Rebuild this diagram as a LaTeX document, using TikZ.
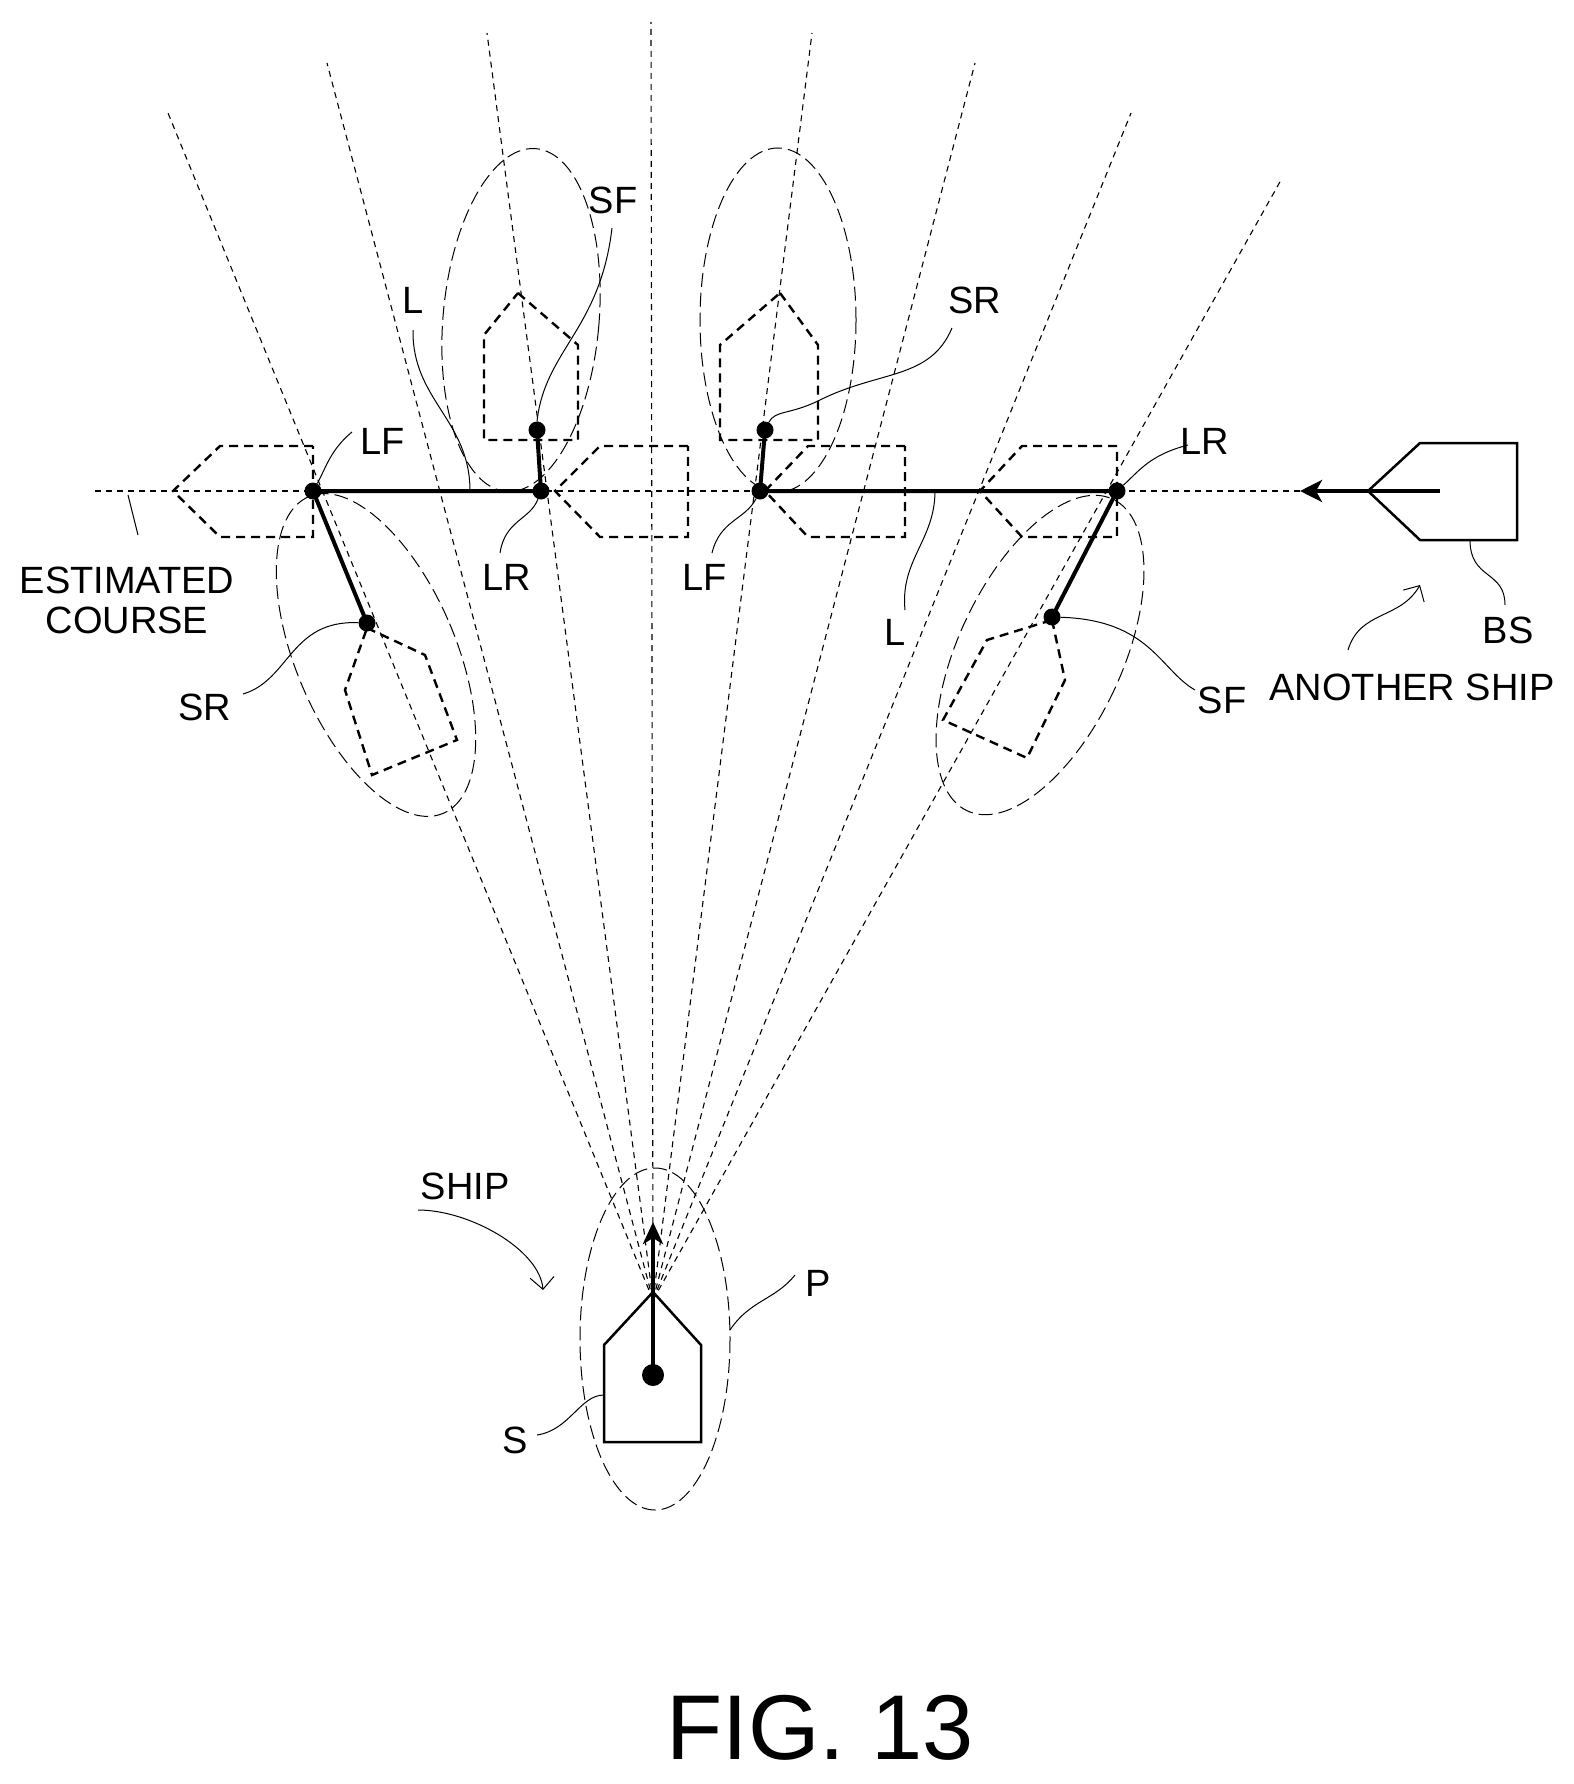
\documentclass[tikz,border=0pt]{standalone}
\usepackage{fontspec}
\setmainfont{Liberation Sans}
\usetikzlibrary{arrows.meta}
\begin{document}
\begin{tikzpicture}[x=1pt,y=-1pt,
 ray/.style={line width=1.1pt,dash pattern=on 6pt off 5pt},
 ell/.style={line width=1pt,dash pattern=on 14pt off 6pt},
 ghost/.style={line width=2.4pt,dash pattern=on 9pt off 6pt},
 thick line/.style={line width=4pt},
 lead/.style={line width=1pt},
 pt/.style={circle,fill=black,inner sep=0pt,minimum size=17pt},
 lab/.style={font=\fontsize{38}{40}\selectfont,inner sep=1pt}]
\useasboundingbox (0,0) rectangle (1573,1784);
% rays from own ship
\coordinate (O) at (653,1300);
\foreach \x/\y in {168/113,327/63,487/33,651/22,812/33,975/63,1131/113,1281/180}
  \draw[ray] (O) -- (\x,\y);
% course line
\coordinate (c0) at (95,491); \coordinate (c1) at (1310,491);
\draw[ray] (c0) -- (c1);
% ellipses
\draw[ell,rotate around={-5:(521,320)}] (521,320) ellipse [x radius=78,y radius=172];
\draw[ell] (778,320) ellipse [x radius=78,y radius=172];
\draw[ell,rotate around={23:(376,655)}] (376,655) ellipse [x radius=80,y radius=172];
\draw[ell,rotate around={-25:(1040,655)}] (1040,655) ellipse [x radius=82,y radius=172];
\draw[ell] (655,1339) ellipse [x radius=75,y radius=171];
% ghost ships
\draw[ghost] (313,446) -- (220,446) -- (173,491) -- (220,537) -- (313,537) -- cycle;
\draw[ghost] (688,446) -- (600,446) -- (555,491) -- (600,537) -- (688,537) -- cycle;
\draw[ghost] (905,446) -- (808,446) -- (765,491) -- (808,537) -- (905,537) -- cycle;
\draw[ghost] (1117,446) -- (1022,446) -- (980,491) -- (1022,537) -- (1117,537) -- cycle;
\draw[ghost] (518,293) -- (578,345) -- (578,440) -- (484,440) -- (484,335) -- cycle;
\draw[ghost] (780,293) -- (818,345) -- (818,440) -- (720,440) -- (720,345) -- cycle;
\draw[ghost] (367,628) -- (425,655) -- (457,740) -- (372,775) -- (345,690) -- cycle;
\draw[ghost] (1052,620) -- (1065,680) -- (1027,758) -- (943,720) -- (987,640) -- cycle;
% points
\node[pt] (LF1) at (313,491) {};
\node[pt] (LR1) at (541,491) {};
\node[pt] (SF1) at (537,430) {};
\node[pt] (SR2) at (765,430) {};
\node[pt] (LF2) at (760,491) {};
\node[pt] (LR2) at (1117,491) {};
\node[pt] (SR1) at (367,623) {};
\node[pt] (SF2) at (1052,617) {};
\draw[thick line] (LF1.center) -- (LR1.center) -- (SF1.center);
\draw[thick line] (SR2.center) -- (LF2.center) -- (LR2.center);
\draw[thick line] (LF1.center) -- (SR1.center);
\draw[thick line] (LR2.center) -- (SF2.center);
% another ship
\draw[line width=2.5pt] (1368,491) -- (1420,443) -- (1517,443) -- (1517,540) -- (1420,540) -- cycle;
\coordinate (bsa) at (1440,491); \coordinate (bsb) at (1300,491);
\draw[line width=4pt,-{Stealth[length=22pt,width=22pt,inset=6pt]}] (bsa) -- (bsb);
% own ship
\draw[line width=2.5pt] (653,1292) -- (701,1345) -- (701,1442) -- (604,1442) -- (604,1345) -- cycle;
\node[circle,fill=black,inner sep=0pt,minimum size=22pt] (dot) at (653,1375) {};
\coordinate (tip) at (653,1222);
\draw[line width=4pt,-{Stealth[length=22pt,width=20pt,inset=6pt]}] (dot.center) -- (tip);
% labels
\node[lab] (tSF1) at (613,200) {SF};
\node[lab] (tL1) at (413,300) {L};
\node[lab] (tLF1) at (383,441) {LF};
\node[lab] (tLR1) at (507,577) {LR};
\node[lab] (tLF2) at (705,577) {LF};
\node[lab] (tSR2) at (975,300) {SR};
\node[lab] (tLR2) at (1205,441) {LR};
\node[lab] (tL2) at (895,632) {L};
\node[lab] (tSF2) at (1222,700) {SF};
\node[lab] (tSR1) at (205,707) {SR};
\node[lab,align=center] (tEC) at (127,600) {ESTIMATED\\COURSE};
\node[lab] (tBS) at (1508,630) {BS};
\node[lab] (tAS) at (1412,687) {ANOTHER SHIP};
\node[lab] (tSHIP) at (465,1186) {SHIP};
\node[lab] (tP) at (818,1283) {P};
\node[lab] (tS) at (515,1440) {S};
\node[font=\fontsize{92}{96}\selectfont] (fig) at (820,1728) {FIG. 13};
% leaders
\draw[lead] (612,228) .. controls (600,330) and (545,350) .. (SF1.north);
\draw[lead] (413,330) .. controls (412,400) and (470,420) .. (470,491);
\draw[lead] (352,432) .. controls (330,450) and (325,470) .. (LF1);
\draw[lead] (500,553) .. controls (505,520) and (530,520) .. (LR1);
\draw[lead] (712,553) .. controls (720,520) and (745,520) .. (LF2);
\draw[lead] (952,328) .. controls (930,380) and (880,370) .. (820,400) .. controls (790,415) and (775,410) .. (SR2);
\draw[lead] (1188,445) .. controls (1150,455) and (1140,470) .. (LR2);
\draw[lead] (905,610) .. controls (900,560) and (935,540) .. (935,491);
\draw[lead] (1195,690) .. controls (1160,670) and (1150,620) .. (SF2);
\draw[lead] (243,694) .. controls (290,680) and (290,620) .. (SR1);
\draw[lead] (128,495) -- (138,535);
\draw[lead] (1470,540) .. controls (1470,580) and (1505,570) .. (1505,605);
\draw[lead,-{Straight Barb[length=12pt]}] (1348,650) .. controls (1360,610) and (1400,620) .. (1420,585);
\draw[lead,-{Straight Barb[length=12pt]}] (418,1210) .. controls (470,1210) and (540,1250) .. (543,1290);
\draw[lead] (795,1275) .. controls (775,1300) and (750,1300) .. (730,1330);
\draw[lead] (537,1435) .. controls (570,1430) and (580,1395) .. (604,1395);
\end{tikzpicture}
\end{document}
